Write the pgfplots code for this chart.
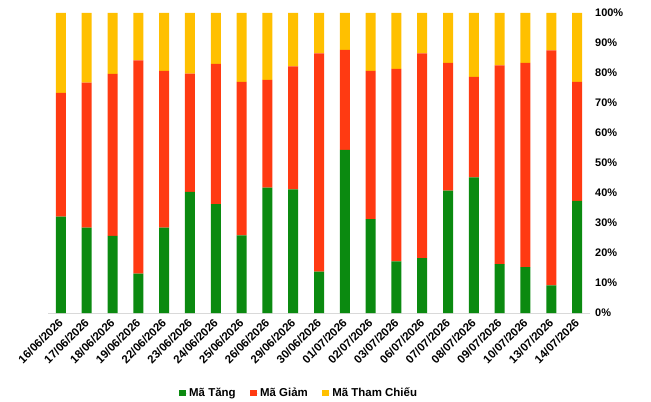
\documentclass[border=0pt]{standalone}
\usepackage{pgfplots}
\pgfplotsset{compat=1.18}
\usepackage{pgfplotstable}
\usepackage{fontspec}
\setmainfont{Liberation Sans}
\definecolor{cgreen}{HTML}{0B8A10}
\definecolor{cred}{HTML}{FF3A12}
\definecolor{cyellow}{HTML}{FFC000}
\definecolor{caxis}{HTML}{D9D9D9}
\pgfplotstableread{
x tang giam tham
0  32.1 41.3 26.6
1  28.5 48.3 23.2
2  25.7 54.0 20.3
3  13.1 71.1 15.8
4  28.5 52.2 19.3
5  40.4 39.4 20.2
6  36.3 46.7 17.0
7  25.9 51.1 23.0
8  41.8 35.9 22.3
9  41.2 41.0 17.8
10 13.8 72.7 13.5
11 54.4 33.3 12.3
12 31.3 49.4 19.3
13 17.2 64.2 18.6
14 18.3 68.2 13.5
15 40.8 42.6 16.6
16 45.2 33.5 21.3
17 16.3 66.2 17.5
18 15.3 68.1 16.6
19  9.2 78.3 12.5
20 37.4 39.6 23.0
}\datatable
\begin{document}
\begin{tikzpicture}[x=1bp,y=1bp]
\path[use as bounding box] (0,0) rectangle (651,401);
\begin{axis}[
  at={(48bp,88bp)}, anchor=south west,
  scale only axis, width=542bp, height=300bp,
  ybar stacked, bar width=10bp,
  xmin=-0.5, xmax=20.5, ymin=0, ymax=100,
  axis x line*=bottom, axis y line*=right,
  x axis line style={caxis, line width=1pt, -},
  y axis line style={draw=none},
  xtick=data,
  xticklabels={16/06/2026,17/06/2026,18/06/2026,19/06/2026,22/06/2026,23/06/2026,24/06/2026,25/06/2026,26/06/2026,29/06/2026,30/06/2026,01/07/2026,02/07/2026,03/07/2026,06/07/2026,07/07/2026,08/07/2026,09/07/2026,10/07/2026,13/07/2026,14/07/2026},
  ytick={0,10,...,100},
  yticklabels={0\%,10\%,20\%,30\%,40\%,50\%,60\%,70\%,80\%,90\%,100\%},
  major tick length=0pt,
  tick style={draw=none},
  x tick label style={rotate=45, anchor=north east, inner sep=1pt, font=\bfseries\fontsize{11.5}{13}\selectfont, xshift=-4.3bp},
  y tick label style={anchor=west, inner sep=0pt, xshift=5bp, font=\bfseries\fontsize{11}{13}\selectfont},
  legend style={at={(0.2417,-0.2667)}, anchor=west, draw=none, inner sep=0pt, legend columns=-1,
    font=\bfseries\fontsize{11.5}{13}\selectfont,
    /tikz/every even column/.append style={column sep=12.5bp}},
  legend image code/.code={\fill[#1] (0bp,-3.25bp) rectangle (6.5bp,3.25bp); \path (0bp,0bp) -- (8bp,0bp);},
  every axis plot/.append style={draw=none},
]
\addplot[fill=cgreen] table[x=x,y=tang]{\datatable};
\addplot[fill=cred] table[x=x,y=giam]{\datatable};
\addplot[fill=cyellow] table[x=x,y=tham]{\datatable};
\legend{Mã Tăng, Mã Giảm, Mã Tham Chiếu}
\end{axis}
\end{tikzpicture}
\end{document}
